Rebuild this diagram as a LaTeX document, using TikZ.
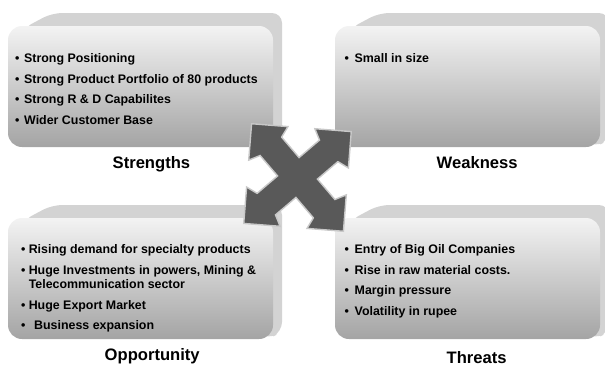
\documentclass[tikz,border=0pt]{standalone}
\usepackage{fontspec}
\setmainfont{Liberation Sans}
\usepackage{xcolor}
\usepackage{tikz}

\definecolor{backgray}{HTML}{D3D3D3}
\definecolor{topgray}{HTML}{F3F3F3}
\definecolor{botgray}{HTML}{A4A4A4}
\definecolor{crossfill}{HTML}{595959}
\definecolor{crossedge}{HTML}{C8C8C8}

\newcommand{\bul}[1][9pt]{\makebox[#1][l]{•}}

\tikzset{
    backface/.style={fill=backgray, rounded corners=10pt},
    frontface/.style={top color=topgray, bottom color=botgray, rounded corners=14pt},
    items/.style={anchor=north west, inner sep=0pt, align=left, font=\bfseries\fontsize{12.4}{14.5}\selectfont},
    heading/.style={anchor=base west, inner sep=0pt, font=\bfseries\fontsize{16.6}{20}\selectfont},
    crossarrow/.style={fill=crossfill, draw=crossedge, line width=1.4pt, line join=miter},
}

\begin{document}
\begin{tikzpicture}[x=1pt, y=1pt]
    \useasboundingbox (0,0) rectangle (605,-365);

    % Boxes
    \foreach \bx/\by in {8/26, 335/26, 8/218, 335/218} {
        \fill[backface] (\bx+14,-\by-3) -- (\bx+44,-\by+13) -- (\bx+274,-\by+13) -- (\bx+274,-\by-114) -- (\bx+260,-\by-121) -- cycle;
        \shade[frontface] (\bx,-\by) rectangle (\bx+265,-\by-121);
    }

    % Lists
    \node[items] (strengthlist) at (15,-53.5) {\bul Strong Positioning\\[6pt]
        \bul Strong Product Portfolio of 80 products\\[6pt]
        \bul Strong R \& D Capabilites\\[6pt]
        \bul Wider Customer Base};
    \node[items] (weaklist) at (344.5,-53.5) {\bul[10pt]Small in size};
    \node[items] (opplist) at (21,-244.5) {\bul[7.6pt]Rising demand for specialty products\\[6pt]
        \bul[7.6pt]Huge Investments in powers, Mining \&\\
        \hspace*{7.6pt}Telecommunication sector\\[6pt]
        \bul[7.6pt]Huge Export Market\\[6pt]
        \bul[13pt]Business expansion};
    \node[items] (threatlist) at (344.5,-244.5) {\bul[10pt]Entry of Big Oil Companies\\[6pt]
        \bul[10pt]Rise in raw material costs.\\[6pt]
        \bul[10pt]Margin pressure\\[6pt]
        \bul[10pt]Volatility in rupee};

    % Titles
    \node[heading] (strengths) at (112.5,-168) {Strengths};
    \node[heading] (weakness) at (436.5,-168) {Weakness};
    \node[heading] (opportunity) at (104.5,-360) {Opportunity};
    \node[heading] (threats) at (446.5,-363) {Threats};

    % Cross
    \begin{scope}[shift={(297.5,-177.5)}, rotate=-4.5, scale=50]
        \draw[crossarrow] (1,1) -- (0.27,1) -- (0.38,0.78) -- (0,0.4) -- (-0.38,0.78) -- (-0.27,1)
            -- (-1,1) -- (-1,0.27) -- (-0.78,0.38) -- (-0.4,0) -- (-0.78,-0.38) -- (-1,-0.27)
            -- (-1,-1) -- (-0.27,-1) -- (-0.38,-0.78) -- (0,-0.4) -- (0.38,-0.78) -- (0.27,-1)
            -- (1,-1) -- (1,-0.27) -- (0.78,-0.38) -- (0.4,0) -- (0.78,0.38) -- (1,0.27) -- cycle;
    \end{scope}
\end{tikzpicture}
\end{document}
